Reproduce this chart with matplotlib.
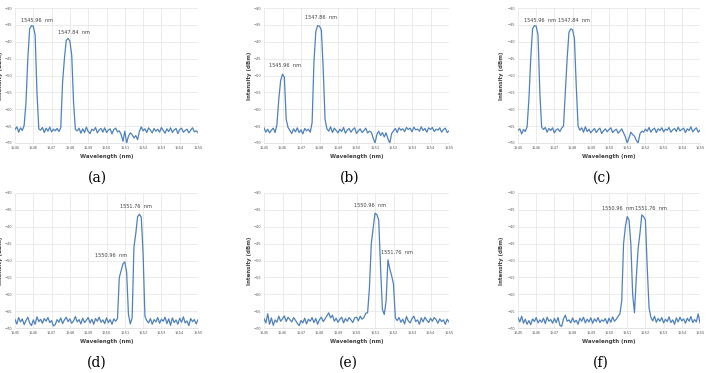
import numpy as np
import matplotlib
matplotlib.use("Agg")
import matplotlib.pyplot as plt

# wavelength grid shared by all six spectra (nm)
wavelength = np.round(np.arange(1545.0, 1555.01, 0.1), 1)

# intensity (dBm)
spec_a = [-66.0, -65.2, -66.8, -65.5, -66.3, -64.8, -58, -45, -36.2, -35.2,
          -35.4, -38, -55, -65.8,
          -66.2, -65.4, -66.9, -65.6, -66.5, -65.3, -66.7, -65.9, -66.4, -65.7, -66.6,
          -65.5, -52, -45, -39.6, -39.0, -39.8, -44, -58, -66,
          -66.4, -65.6, -67.1, -65.8, -66.9, -65.3, -66.6, -67.2, -65.9, -66.3, -65.4, -67.0,
          -66.1, -65.7, -66.8, -65.5, -66.9, -66.2, -65.8, -67.3, -66.0, -65.6, -66.7, -66.4,
          -67.5, -69.5, -66.5, -70, -68, -67, -67.5, -68.5, -67.8, -69, -66.5,
          -65.2, -66.4, -65.8, -66.9, -65.5, -66.2, -67.0, -65.7, -66.5, -65.9, -66.8, -65.4,
          -66.3, -67.1, -65.8, -66.6, -65.5, -66.9, -66.1, -65.7, -67.2, -66.0, -65.6, -66.8,
          -66.3, -65.9, -67.0, -66.2, -65.5, -66.7, -66.4, -66.9]
spec_b = [-65.5, -66.8, -65.9, -67.0, -66.2, -65.6, -66.9, -64.5, -57, -51.5,
          -49.6, -50.5, -63, -65.4,
          -66.3, -67.2, -65.8, -66.7, -65.5, -66.9, -66.1, -67.3, -65.7, -66.4, -65.9, -66.8,
          -64, -46, -37, -35.2, -35.4, -36.5, -48, -63,
          -65.8, -66.5, -65.2, -66.9, -65.6, -66.3, -67.0, -65.9, -66.6, -65.4, -67.1, -66.2,
          -65.7, -66.8, -66.0, -65.5, -67.2, -66.4, -65.8, -66.9, -66.3, -65.6, -67.0, -66.5,
          -66.8, -68.5, -70, -67.5, -66.5, -67.8, -66.9, -68.2, -67.0, -68.8, -70, -67.2,
          -66.4, -65.7, -66.9, -65.5, -66.2, -65.8, -66.6, -65.4, -66.0, -65.6, -66.7, -65.3,
          -66.1, -65.9, -66.5, -65.2, -66.3, -65.7, -66.8, -65.5, -66.0, -65.4, -66.6, -65.9,
          -66.2, -65.5, -66.8, -66.0, -65.6, -66.9, -66.4]
spec_c = [-66.2, -65.8, -67.3, -66.0, -66.6, -65.2, -57, -45, -36.2, -35.2,
          -35.4, -38, -55, -65.3,
          -66.0, -65.4, -66.8, -65.7, -66.3, -65.5, -67.0, -66.1, -65.8, -66.6, -65.6, -65.0,
          -55, -45, -37.2, -36.2, -36.5, -39, -53, -65,
          -66.2, -65.5, -66.8, -65.2, -66.6, -65.9, -67.0, -66.3, -65.7, -66.9, -66.1, -65.6,
          -67.2, -66.4, -65.8, -66.7, -66.0, -65.5, -66.9, -66.3, -65.9, -67.1, -66.5, -65.8,
          -67.0, -68.2, -70, -68.5, -66.8, -67.5, -68.0, -69.2, -70, -67.3, -66.5, -66.8,
          -65.9, -66.5, -65.4, -66.8, -66.0, -65.6, -66.9, -65.8, -66.3, -65.5, -66.7, -65.9,
          -66.2, -65.4, -66.8, -66.1, -65.7, -66.6, -65.3, -66.4, -66.0, -65.6, -66.9, -65.8,
          -66.3, -65.2, -66.7, -66.0, -65.5, -66.8, -66.2]
spec_d = [-67.5, -68.8, -66.9, -68.2, -67.3, -69.0, -67.8, -66.8, -68.5, -69.3,
          -67.6, -68.9, -66.7, -68.1, -67.4, -68.6, -67.2, -68.0, -66.9, -68.4,
          -67.8, -69.4, -69.0, -67.5, -68.3, -67.0, -68.7, -67.6, -66.8, -68.1,
          -67.3, -68.6, -67.9, -66.6, -68.2, -67.5, -68.8, -67.1, -68.4, -67.7,
          -66.9, -68.5, -67.4, -68.9, -67.2, -68.0, -66.8, -68.3, -67.6, -68.7,
          -67.0, -68.4, -67.5, -68.9, -67.3, -68.0,
          -67.2, -55, -53, -51, -50.4, -53.5, -66, -68.8, -67, -46, -42, -37.0, -36.3,
          -37.2, -48, -66.5,
          -67.8, -68.5, -67.2, -68.9, -67.5, -68.2, -66.9, -68.6, -67.4, -68.0, -66.8, -68.7,
          -67.3, -69.2, -67.0, -68.4, -67.6, -68.9, -67.1, -68.3, -66.7, -68.5, -67.9, -69.3,
          -67.2, -68.1, -67.5, -68.8, -67.6]
spec_e = [-67.2, -68.5, -65.8, -68.9, -67.0, -69.2, -67.6, -68.3, -66.5, -68.0,
          -67.3, -66.4, -68.1, -66.8, -67.5, -68.2, -66.9, -67.7, -68.6, -69.3,
          -67.8, -68.5, -67.1, -68.8, -67.4, -68.0, -66.9, -68.4, -67.2, -68.9,
          -67.5, -66.8, -68.1, -67.3, -66.4, -65.5, -67.0, -66.2, -68.0, -67.1,
          -68.3, -67.4, -66.8, -68.5, -67.2, -68.0, -66.9, -67.6, -68.4, -67.0,
          -66.8, -67.9, -66.5, -67.4, -66.9, -65.6,
          -65.5, -58, -45, -40.5, -36.0, -36.4, -38, -52, -64.5, -66, -62, -49.8, -52.5,
          -54.5, -57, -67,
          -67.8, -66.9, -68.3, -67.4, -68.8, -66.6, -67.9, -68.5, -67.2, -66.5, -68.1, -67.6,
          -68.9, -67.0, -68.2, -66.8, -67.7, -68.4, -67.1, -68.0, -66.9, -67.5, -68.6, -67.3,
          -68.1, -67.6, -68.9, -67.4, -68.2]
spec_f = [-67.0, -68.2, -66.5, -68.6, -67.4, -68.9, -67.8, -69.0, -67.3, -68.1,
          -66.9, -68.5, -67.6, -68.3, -67.1, -68.7, -66.8, -68.0, -67.5, -68.6,
          -67.2, -68.4, -66.9, -69.2, -69.5, -67.3, -66.2, -68.0, -67.6, -68.5,
          -67.0, -68.3, -67.7, -68.9, -67.1, -68.0, -66.8, -68.5, -67.4, -68.2,
          -67.0, -68.6, -67.3, -68.1, -66.9, -68.4, -67.6, -68.0, -67.2, -68.7,
          -67.1, -68.3, -66.7, -68.0, -67.4, -66.5,
          -65.8, -62, -45, -40, -37, -38, -45, -60, -65.5, -55, -46.5, -42, -36.5, -37,
          -38, -52, -64,
          -66.8, -67.9, -66.5, -68.3, -67.2, -68.0, -66.9, -68.5, -67.4, -68.1, -66.7, -68.4,
          -67.6, -68.9, -67.0, -68.2, -66.8, -67.9, -67.3, -68.6, -67.1, -68.0, -66.6, -68.4,
          -67.5, -68.2, -65.8, -68.5]

spectra = [spec_a, spec_b, spec_c, spec_d, spec_e, spec_f]
captions = ['(a)', '(b)', '(c)', '(d)', '(e)', '(f)']

# peak labels: (text, x in nm, y in dBm)
peak_labels = [
    [('1545.96  nm', 1546.18, -33.6), ('1547.84  nm', 1548.2, -37.3)],
    [('1545.96  nm', 1546.13, -46.9), ('1547.86  nm', 1548.08, -32.7)],
    [('1545.96  nm', 1546.23, -33.6), ('1547.84  nm', 1548.06, -33.6)],
    [('1550.96  nm', 1550.24, -48.6), ('1551.76  nm', 1551.6, -34.0)],
    [('1550.96  nm', 1550.72, -33.7), ('1551.76  nm', 1552.16, -47.6)],
    [('1550.96  nm', 1550.48, -34.6), ('1551.76  nm', 1552.31, -34.6)],
]

W, H = 709, 373
# axes boxes in pixels: left, right, top, bottom
boxes = [(15, 198, 8, 143), (264, 449, 8, 143), (518, 700, 8, 143),
         (15, 198, 193, 328), (264, 449, 193, 328), (518, 700, 193, 328)]
caption_pos = [(97, 178), (350, 178), (602, 178), (97, 363), (348, 363), (601, 363)]
ylabel_x = [1, 250, 502, 1, 250, 502]

line_color = '#4F81BD'

fig = plt.figure(figsize=(W / 100, H / 100), dpi=100)

for k in range(6):
    l, r, t, b = boxes[k]
    ax = fig.add_axes([l / W, 1 - b / H, (r - l) / W, (b - t) / H])
    ax.plot(wavelength, spectra[k], color=line_color, lw=0.9)
    ax.set_xlim(1545, 1555)
    ax.set_ylim(-70, -30)
    ax.set_xticks(np.arange(1545, 1556, 1))
    ax.set_yticks(np.arange(-70, -29, 5))
    ax.grid(True, color='#E3E3E3', lw=0.5)
    ax.set_axisbelow(True)
    ax.tick_params(labelsize=2.6, length=0, pad=2, colors='#595959')
    for s in ['top', 'right', 'left']:
        ax.spines[s].set_visible(False)
    ax.spines['bottom'].set_color('#D9D9D9')
    ax.spines['bottom'].set_linewidth(0.5)
    ax.set_xlabel('Wavelength (nm)', fontsize=4, fontweight='bold',
                  color='#404040', labelpad=3)
    for txt, xv, yv in peak_labels[k]:
        ax.text(xv, yv, txt, fontsize=3.6, ha='center', va='center', color='#404040')
    fig.text(ylabel_x[k] / W, 1 - ((t + b) / 2) / H, 'Intensity (dBm)', rotation=90,
             fontsize=4, fontweight='bold', color='#404040', ha='center', va='center')
    cx, cy = caption_pos[k]
    fig.text(cx / W, 1 - cy / H, captions[k], fontsize=10, family='DejaVu Serif',
             ha='center', va='center')

fig.savefig('out.png', dpi=100)
